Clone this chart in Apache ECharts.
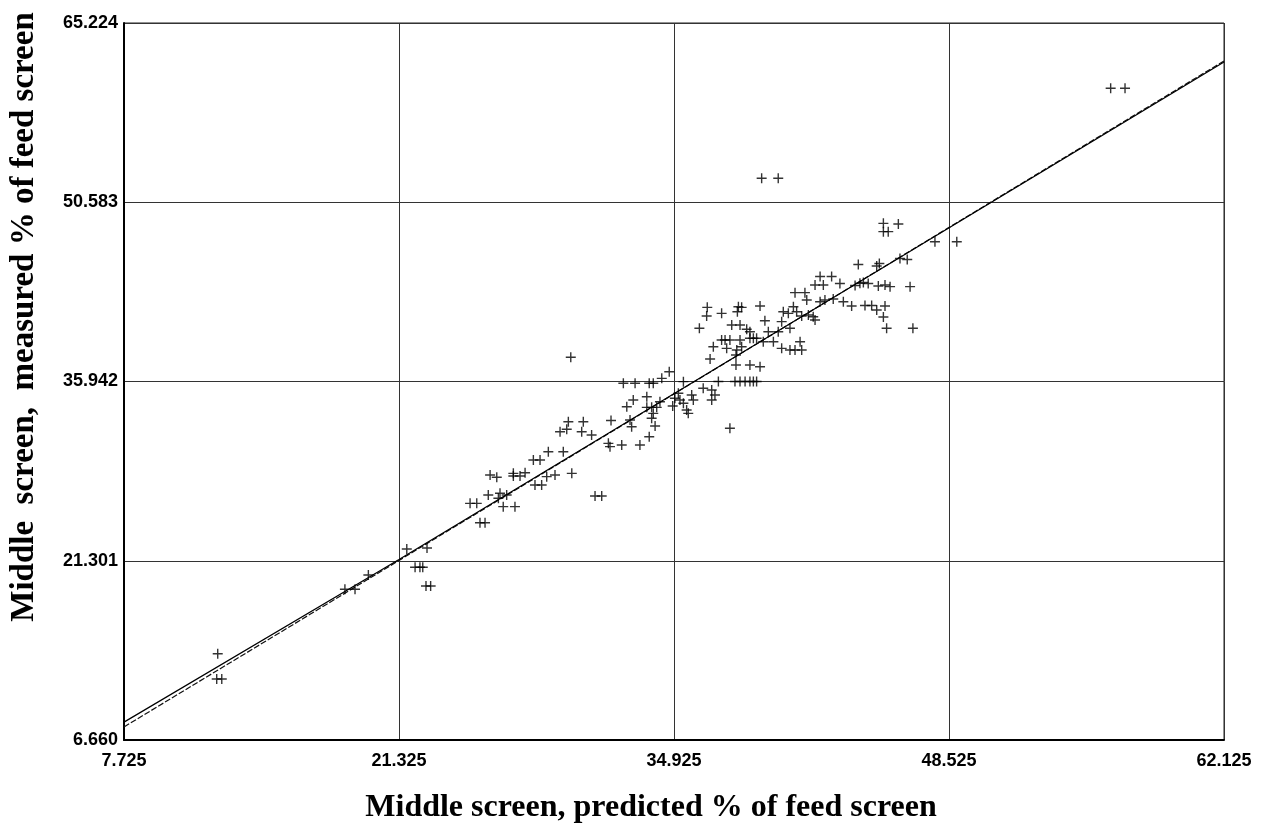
<!DOCTYPE html>
<html>
<head>
<meta charset="utf-8">
<title>Middle screen: predicted vs measured</title>
<script src="https://cdn.jsdelivr.net/npm/echarts@6/dist/echarts.min.js"></script>
<style>
  html, body { margin: 0; padding: 0; background: #fff; }
  #chart { width: 1261px; height: 826px; }
</style>
</head>
<body>
<div id="chart"></div>
<script>
// Middle screen fraction: model prediction (x) against measurement (y), % of feed screen
const predictedPct = [
  12.36, 12.31, 12.56, 18.65, 19.15, 19.81, 21.71, 22.71, 22.12, 22.36,
  22.50, 22.66, 22.89, 24.84, 25.17, 25.33, 25.58, 25.74, 26.32, 26.65,
  26.24, 26.48, 27.06, 25.83, 26.16, 26.98, 26.98, 27.31, 27.56, 28.05,
  28.38, 28.63, 29.04, 29.87, 27.97, 28.30, 28.71, 29.45, 31.02, 31.35,
  29.29, 29.62, 30.36, 29.70, 30.44, 30.85, 31.81, 31.68, 31.76, 32.34,
  29.82, 32.42, 33.00, 33.70, 33.90, 34.32, 34.69, 35.39, 32.91, 32.59,
  33.58, 33.58, 33.82, 34.07, 34.23, 34.86, 34.97, 35.22, 35.80, 35.88,
  35.55, 35.63, 32.75, 32.83, 33.82, 33.99, 33.70, 33.24, 33.90, 35.14,
  35.39, 36.37, 36.79, 36.95, 36.79, 37.69, 37.12, 37.94, 38.19, 38.44,
  38.68, 38.85, 39.01, 36.57, 36.54, 37.28, 38.11, 38.27, 38.06, 39.18,
  36.18, 37.78, 38.19, 38.52, 38.68, 39.42, 39.59, 40.08, 40.25, 40.66,
  40.33, 40.58, 40.83, 40.99, 41.24, 41.57, 41.81, 41.90, 37.28, 37.45,
  37.69, 38.19, 38.68, 38.85, 39.01, 36.87, 37.53, 38.03, 38.27, 39.34,
  39.84, 40.25, 40.66, 40.91, 41.16, 41.24, 36.71, 37.99, 37.99, 38.68,
  39.18, 40.91, 41.40, 41.49, 42.15, 42.39, 42.80, 43.30, 43.71, 44.37,
  44.70, 44.95, 45.36, 45.28, 45.44, 46.74, 42.15, 42.72, 41.90, 42.31,
  43.13, 43.88, 44.12, 44.29, 44.53, 45.03, 45.36, 45.61, 46.60, 44.04,
  44.95, 45.08, 46.10, 46.46, 45.28, 45.28, 45.52, 46.02, 47.83, 48.91,
  39.26, 40.08, 56.52, 57.23
];
const measuredPct = [
  13.71, 11.64, 11.64, 18.97, 18.97, 20.14, 22.26, 22.34, 20.77, 20.77,
  20.77, 19.24, 19.24, 25.99, 25.99, 24.41, 24.41, 26.67, 26.81, 26.67,
  26.40, 25.72, 25.72, 28.31, 28.12, 28.44, 28.22, 28.22, 28.49, 27.49,
  27.49, 28.17, 28.31, 28.44, 29.53, 29.53, 30.21, 30.21, 26.59, 26.59,
  31.84, 32.04, 31.84, 32.66, 32.66, 31.57, 32.76, 30.89, 30.62, 30.76,
  37.92, 35.80, 35.80, 35.80, 35.80, 36.20, 36.74, 35.93, 34.43, 33.88,
  34.70, 33.83, 33.83, 33.83, 34.29, 33.94, 34.57, 34.43, 34.84, 34.43,
  33.61, 33.34, 32.80, 32.25, 32.94, 32.31, 31.43, 30.76, 33.34, 34.98,
  34.16, 35.39, 35.25, 34.84, 34.43, 32.12, 35.94, 35.94, 35.94, 35.94,
  35.94, 35.94, 35.94, 42.00, 41.29, 41.51, 42.05, 42.00, 41.64, 42.11,
  40.29, 40.56, 40.56, 40.21, 40.01, 40.91, 40.01, 40.01, 40.83, 40.29,
  41.64, 41.51, 42.05, 41.64, 41.29, 41.37, 41.23, 40.97, 39.33, 39.33,
  39.33, 39.33, 39.47, 39.47, 39.47, 38.78, 38.65, 38.52, 38.78, 39.19,
  39.19, 38.65, 38.52, 38.52, 39.19, 38.52, 37.78, 38.11, 37.29, 37.29,
  37.15, 43.20, 43.20, 42.60, 42.46, 42.60, 42.68, 42.46, 42.11, 42.15,
  42.15, 41.78, 42.11, 41.21, 40.29, 40.29, 44.52, 44.52, 43.82, 43.82,
  43.95, 43.78, 43.96, 44.03, 43.95, 43.74, 43.82, 43.69, 43.69, 45.50,
  45.38, 45.58, 45.99, 45.91, 48.86, 48.18, 48.18, 48.81, 47.36, 47.36,
  52.54, 52.54, 59.89, 59.89
];

// fitted relation (solid) and the 1:1 reference line (dashed)
const fitX = [7.725, 21.325, 62.125];
const fitY = [8.12, 21.40, 62.04];
const unityX = [7.725, 62.125];
const unityY = [7.725, 62.125];

// axis tick values
const xTicks = [7.725, 21.325, 34.925, 48.525, 62.125];
const yTicks = [6.660, 21.301, 35.942, 50.583, 65.224];

const zip = (a, b) => a.map((v, i) => [v, b[i]]);

const tickFont = {
  fontFamily: '"Liberation Sans", Arial, sans-serif',
  fontSize: 18,
  fontWeight: 'bold',
  color: '#000'
};
const gridLine = { show: true, lineStyle: { color: '#333', width: 1 } };

const chart = echarts.init(document.getElementById('chart'), null, { renderer: 'canvas' });

chart.setOption({
  animation: false,
  backgroundColor: '#fff',
  grid: {
    left: 124, top: 23, right: 37, bottom: 86,
    show: true, borderColor: '#222', borderWidth: 1, backgroundColor: 'transparent'
  },
  xAxis: {
    type: 'value',
    min: xTicks[0],
    max: xTicks[xTicks.length - 1],
    axisLine: { show: true, onZero: false, lineStyle: { color: '#000', width: 2 } },
    axisTick: { show: false, customValues: xTicks },
    axisLabel: Object.assign({ customValues: xTicks, margin: 12,
      formatter: v => v.toFixed(3) }, tickFont),
    splitLine: gridLine
  },
  yAxis: {
    type: 'value',
    min: yTicks[0],
    max: yTicks[yTicks.length - 1],
    axisLine: { show: true, onZero: false, lineStyle: { color: '#000', width: 2 } },
    axisTick: { show: false, customValues: yTicks },
    axisLabel: Object.assign({ customValues: yTicks, margin: 6,
      formatter: v => v.toFixed(3) }, tickFont),
    splitLine: gridLine
  },
  graphic: [
    {
      type: 'text',
      x: 651, y: 808,
      style: {
        text: 'Middle screen, predicted % of feed screen',
        font: 'bold 32px "Liberation Serif", "Times New Roman", serif',
        fill: '#000',
        textAlign: 'center',
        textVerticalAlign: 'middle'
      }
    },
    {
      type: 'text',
      x: 24, y: 317,
      rotation: Math.PI / 2,
      style: {
        text: 'Middle  screen,  measured % of feed screen',
        font: 'bold 33px "Liberation Serif", "Times New Roman", serif',
        fill: '#000',
        textAlign: 'center',
        textVerticalAlign: 'middle'
      }
    }
  ],
  series: [
    {
      type: 'line',
      data: zip(unityX, unityY),
      symbol: 'none',
      lineStyle: { color: '#111', width: 1.2, type: [6, 2] },
      z: 3
    },
    {
      type: 'line',
      data: zip(fitX, fitY),
      symbol: 'none',
      lineStyle: { color: '#000', width: 1.2 },
      z: 4
    },
    {
      type: 'scatter',
      data: zip(predictedPct, measuredPct),
      symbol: 'path://M0,5L10,5M5,0L5,10',
      symbolSize: 10,
      itemStyle: { color: 'none', borderColor: '#000', borderWidth: 1.4 },
      z: 5
    }
  ]
});
</script>
</body>
</html>
